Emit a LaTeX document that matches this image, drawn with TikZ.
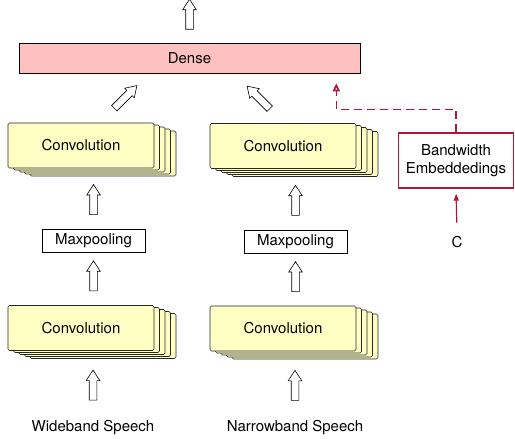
\documentclass[tikz,border=0pt]{standalone}
\usepackage{fontspec}
\setmainfont{TeX Gyre Heros}
\usetikzlibrary{calc,positioning,shapes.arrows,arrows.meta}
\definecolor{densepink}{RGB}{255,192,192}
\definecolor{convyellow}{RGB}{255,255,196}
\definecolor{bwred}{RGB}{178,22,52}

\begin{document}
\begin{tikzpicture}[x=1pt,y=-1pt,font=\fontsize{15}{17.5}\selectfont]
\tikzset{
% boxes of the network
conv layer/.style={draw=black!85,fill=convyellow,rounded corners=1.5pt,minimum width=146pt,minimum height=45pt,line width=0.6pt},
pool box/.style={draw,minimum width=103pt,minimum height=23pt,inner sep=0pt,line width=0.6pt},
dense box/.style={draw,fill=densepink,minimum width=341pt,minimum height=30pt,line width=0.6pt},
bw box/.style={draw=bwred,line width=1.4pt,minimum width=115pt,minimum height=55pt,align=center},
% hollow block arrows
block arrow/.style={single arrow,draw,fill=white,line width=0.6pt,inner xsep=0pt,inner ysep=3.5pt,single arrow head extend=3pt,single arrow tip angle=66,minimum height=30pt},
up arrow/.style={sloped,allow upside down,block arrow}
}
\useasboundingbox (0,0) rectangle (515,439);

% stacks of feature maps: four layers behind the front one
\foreach \name/\x/\y in {convA1/81/145.5,convB1/283/146,convA2/81/328,convB2/283/328.5}{
  \foreach \i in {4,3,2,1}
    \node[conv layer] (\name-\i) at (\x+\i*5.5,\y+\i*2) {};
  \node[conv layer] (\name) at (\x,\y) {Convolution};
}

\node[pool box] (poolA) at (93.5,240.5) {Maxpooling};
\node[pool box] (poolB) at (295.5,241.5) {Maxpooling};
\node[dense box] (dense) at (189.5,58) {Dense};
\node[bw box] (bw) at (456,160.5) {Bandwidth\\Embeddedings};
\node (c) at (457,242) {C};
\node (wide) at (93,428) {Wideband Speech};
\node (narrow) at (295,428) {Narrowband Speech};

% block arrows between the layers
\path (wide.north) -- (wide.north |- convA2-4.south) node[midway,up arrow]{};
\path (narrow.north) -- (narrow.north |- convB2-4.south) node[midway,up arrow]{};
\path (poolA.south |- convA2.north) -- (poolA.south) node[midway,up arrow]{};
\path (poolB.south |- convB2.north) -- (poolB.south) node[midway,up arrow]{};
\path (poolA.north) -- (poolA.north |- convA1-4.south) node[midway,up arrow]{};
\path (poolB.north) -- (poolB.north |- convB1-4.south) node[midway,up arrow]{};
\node[block arrow,rotate=45,minimum height=32pt] at (123.5,99) {};
\node[block arrow,rotate=135,minimum height=32pt] at (260.5,99.5) {};
\path (dense.north) -- ($(dense.north)+(0,-51)$) node[midway,up arrow]{};

% bandwidth input
\coordinate (dtip) at ([xshift=-24pt,yshift=-10pt]dense.south east);
\draw[bwred,line width=1.2pt,-{Triangle[length=7pt,width=5pt]},shorten <=10pt,shorten >=5pt] (c.north) -- (bw.south);
\draw[bwred,line width=1.6pt,dash pattern=on 8pt off 5pt,-{Triangle[open,length=8pt,width=7pt]}] (bw.north) -- ++(0,-23) -| (dtip);
\end{tikzpicture}
\end{document}
